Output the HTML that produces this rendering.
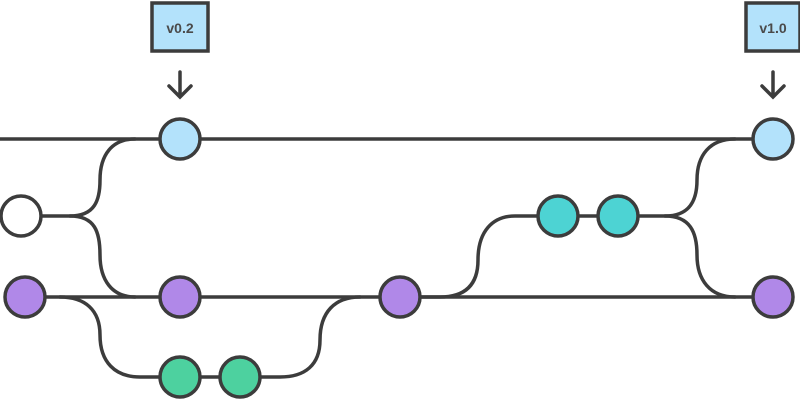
<!DOCTYPE html>
<html><head><meta charset="utf-8"><style>
html,body{margin:0;padding:0;background:#fff;width:800px;height:400px;overflow:hidden}
</style></head><body>
<svg width="800" height="400" viewBox="0 0 800 400" xmlns="http://www.w3.org/2000/svg">
<g fill="none" stroke="#3c3c3c" stroke-width="3.5" stroke-linecap="round">
<path d="M0,139 H780"/>
<path d="M25,297 H780"/>
<path d="M21,216 H70 C95,216 100,200 100,180 C100,155 112,139 135,139"/>
<path d="M70,216 C95,216 100,232 100,255 C100,280 112,297 135,297"/>
<path d="M60,297 C85,297 100,310 100,335 C100,362 115,377 140,377 H280 C305,377 320,365 320,340 C320,312 335,297 360,297"/>
<path d="M400,297 H440 C465,297 478,285 478,260 C478,232 492,216 515,216 H665 C690,216 697,200 697,180 C697,155 710,139 735,139"/>
<path d="M665,216 C690,216 697,232 697,255 C697,280 710,297 735,297"/>
<path d="M180,72 V96 M169,86 L180,97 L191,86"/>
<path d="M773,72 V96 M762,86 L773,97 L784,86"/>
</g>
<g stroke="#3c3c3c" stroke-width="3.5">
<rect x="152" y="3" width="56" height="48" fill="#b3e2fb"/>
<rect x="746" y="3" width="54" height="48" fill="#b3e2fb"/>
<circle cx="180" cy="139" r="20" fill="#b3e2fb"/>
<circle cx="773" cy="139" r="20" fill="#b3e2fb"/>
<circle cx="21" cy="216" r="20" fill="#fff"/>
<circle cx="25" cy="297" r="20" fill="#b088e8"/>
<circle cx="180" cy="297" r="20" fill="#b088e8"/>
<circle cx="400" cy="297" r="20" fill="#b088e8"/>
<circle cx="773" cy="297" r="20" fill="#b088e8"/>
<circle cx="180" cy="377" r="20" fill="#4dd19f"/>
<circle cx="240" cy="377" r="20" fill="#4dd19f"/>
<circle cx="558" cy="216" r="20" fill="#4dd3d3"/>
<circle cx="618" cy="216" r="20" fill="#4dd3d3"/>
</g>
<g font-family="Liberation Sans, sans-serif" font-size="14" font-weight="bold" fill="#4a4a4a" text-anchor="middle">
<text x="180" y="33">v0.2</text>
<text x="773" y="33">v1.0</text>
</g>
</svg>
</body></html>
